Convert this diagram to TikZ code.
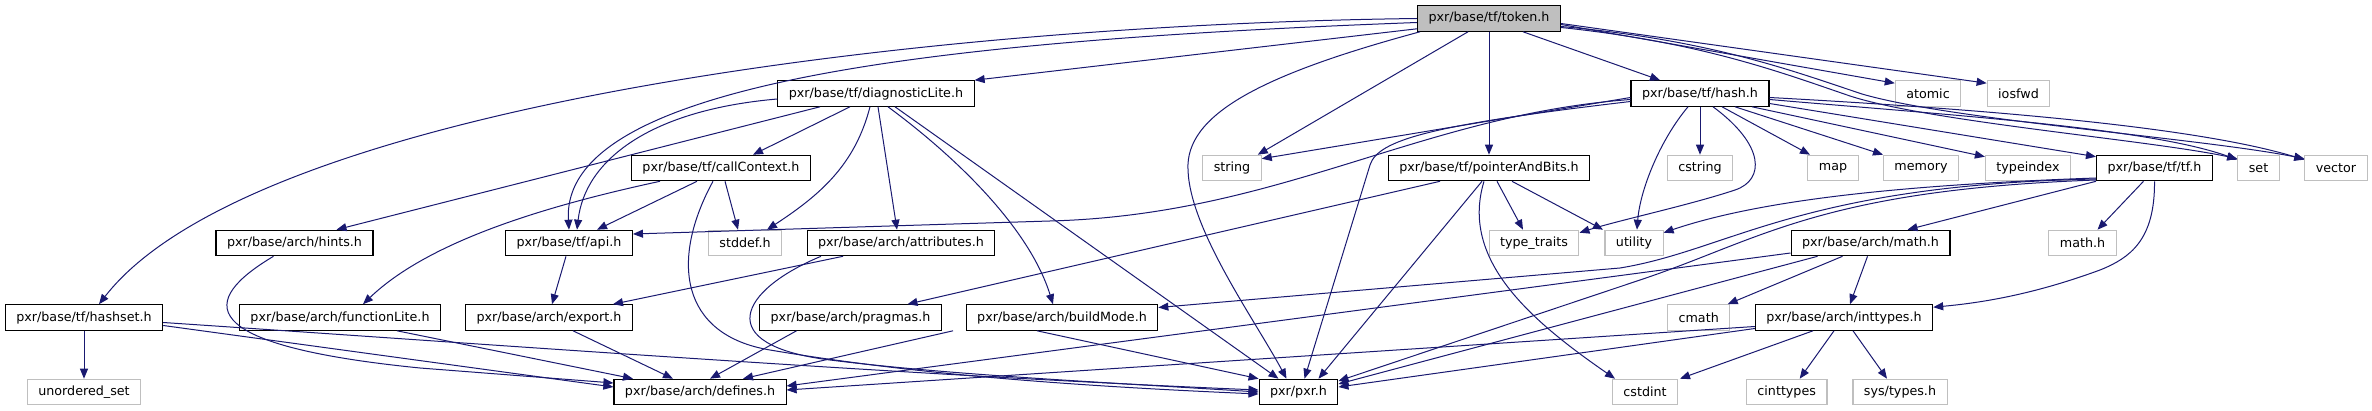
\documentclass[tikz,border=0pt]{standalone}
\usepackage{fontspec}
\setmainfont{DejaVu Sans}
\usetikzlibrary{arrows.meta}

\definecolor{edgeblue}{HTML}{191970}
\definecolor{rootgrey}{HTML}{BFBFBF}

\tikzset{
  hdr/.style={draw=black, fill=white, line width=1.1pt, inner xsep=11pt, inner ysep=0pt,
    minimum height=25.5pt, font=\fontsize{12.7}{15}\selectfont},
  syshdr/.style={hdr, draw=rootgrey},
  roothdr/.style={hdr, fill=rootgrey},
  dep/.style={edgeblue, line width=1pt, -{Triangle[length=10pt,width=8pt]}}
}

\begin{document}
\begin{tikzpicture}[x=1pt, y=-1pt]

  \useasboundingbox (0,0) rectangle (2372,411);

  % --- project headers ---
  \node[roothdr] (token) at (1489,18.5) {pxr/base/tf/token.h};
  \node[hdr] (diag) at (876,93.5) {pxr/base/tf/diagnosticLite.h};
  \node[hdr] (hash) at (1700,93.5) {pxr/base/tf/hash.h};
  \node[hdr] (callCtx) at (721,168) {pxr/base/tf/callContext.h};
  \node[hdr] (pab) at (1489,168) {pxr/base/tf/pointerAndBits.h};
  \node[hdr] (tf) at (2154.5,168) {pxr/base/tf/tf.h};
  \node[hdr] (hints) at (294.5,243) {pxr/base/arch/hints.h};
  \node[hdr] (api) at (569,243) {pxr/base/tf/api.h};
  \node[hdr] (attr) at (901,243) {pxr/base/arch/attributes.h};
  \node[hdr] (amath) at (1870.5,243) {pxr/base/arch/math.h};
  \node[hdr] (hashset) at (84,317.5) {pxr/base/tf/hashset.h};
  \node[hdr] (funcLite) at (340,317.5) {pxr/base/arch/functionLite.h};
  \node[hdr] (export) at (549,317.5) {pxr/base/arch/export.h};
  \node[hdr] (pragmas) at (850.5,317.5) {pxr/base/arch/pragmas.h};
  \node[hdr] (buildMode) at (1062,317.5) {pxr/base/arch/buildMode.h};
  \node[hdr] (inttypes) at (1844,317.5) {pxr/base/arch/inttypes.h};
  \node[hdr] (defines) at (700,392) {pxr/base/arch/defines.h};
  \node[hdr] (pxr) at (1298.5,392) {pxr/pxr.h};

  % --- system headers ---
  \foreach \nm/\x/\y/\txt in {atomic/1928/93.5/atomic, iosfwd/2018.5/93.5/iosfwd,
      string/1232/168/string, cstring/1700/168/cstring, map/1833/168/map,
      memory/1921/168/memory, typeindex/2028/168/typeindex, set/2258.5/168/set,
      vector/2336/168/vector, stddef/745/243/stddef.h, traits/1534/243/type\_traits,
      utility/1634/243/utility, mathh/2082.5/243/math.h, cmath/1698.7/317.5/cmath,
      unordset/84/392/unordered\_set, cstdint/1645/392/cstdint,
      cinttypes/1786.7/392/cinttypes, systypes/1900/392/{sys/types.h}}
    \node[syshdr] (\nm) at (\x,\y) {\txt};

  % --- token.h ---
  \draw[dep] (token.west) .. controls (900,25) and (250,110) .. ([xshift=15pt]hashset.north);
  \draw[dep] ([yshift=3pt]token.south west) -- (diag.north east);
  \draw[dep] ([yshift=-4pt]token.west) .. controls (950,40) and (560,80) .. (api.north);
  \draw[dep] ([xshift=3pt]token.south west) .. controls (1260,75) and (1185,115) .. (1188,170)
    .. controls (1190,230) and (1255,320) .. ([xshift=-12pt]pxr.north);
  \draw[dep] ([xshift=-21pt]token.south) -- ([xshift=-4pt]string.north east);
  \draw[dep] (token.south) -- (pab.north);
  \draw[dep] ([xshift=34pt]token.south) -- ([xshift=-40pt]hash.north);
  \draw[dep] ([yshift=-6pt]token.east) -- ([yshift=-3pt]atomic.north west);
  \draw[dep] ([yshift=-5pt]token.east) -- ([yshift=-3pt]iosfwd.north west);
  \draw[dep] ([yshift=-9pt]token.east) .. controls (1700,42) and (1780,72) .. (1850,96)
    .. controls (1930,122) and (2150,140) .. ([yshift=-4pt]set.north west);
  \draw[dep] ([yshift=-8pt]token.east) .. controls (1710,40) and (1790,70) .. (1862,94)
    .. controls (1950,120) and (2200,138) .. ([yshift=-4pt]vector.north west);

  % --- diagnosticLite.h ---
  \draw[dep] ([yshift=-5.5pt]diag.west) .. controls (650,110) and (585,160) .. ([xshift=8pt]api.north);
  \draw[dep] ([xshift=-56pt]diag.south) -- ([xshift=42pt]hints.north);
  \draw[dep] ([xshift=-26pt]diag.south) -- ([xshift=32pt]callCtx.north);
  \draw[dep] ([xshift=-6pt]diag.south) .. controls (855,165) and (820,195) .. ([xshift=22pt]stddef.north);
  \draw[dep] ([xshift=2pt]diag.south) -- ([xshift=-4pt]attr.north);
  \draw[dep] ([xshift=12pt]diag.south) .. controls (960,160) and (1030,230) .. ([xshift=-9pt]buildMode.north);
  \draw[dep] ([xshift=19pt]diag.south) -- ([xshift=-20pt]pxr.north);

  % --- hash.h ---
  \draw[dep] ([yshift=-6pt]hash.west) .. controls (1420,115) and (1280,215) .. (1050,221)
    -- ([yshift=9pt]api.east);
  \draw[dep] ([yshift=-4pt]hash.west) -- ([yshift=-4pt]string.north east);
  \draw[dep] ([yshift=-8pt]hash.west) .. controls (1430,125) and (1378,140) .. (1370,165)
    -- ([xshift=6pt]pxr.north);
  \draw[dep] (hash.south) -- (cstring.north);
  \draw[dep] ([xshift=-12pt]hash.south) .. controls (1660,140) and (1640,190) .. ([xshift=3pt]utility.north);
  \draw[dep] ([xshift=13pt]hash.south) .. controls (1765,145) and (1765,180) .. (1735,190)
    .. controls (1690,205) and (1620,220) .. ([yshift=-3pt]traits.north east);
  \draw[dep] ([xshift=22pt]hash.south) -- ([xshift=-23pt]map.north);
  \draw[dep] ([xshift=35pt]hash.south) -- ([xshift=-38pt]memory.north);
  \draw[dep] ([xshift=52pt]hash.south) -- ([yshift=-2pt]typeindex.north west);
  \draw[dep] ([yshift=-10pt]hash.east) -- ([yshift=-2pt]tf.north west);
  \draw[dep] ([yshift=-6pt]hash.east) .. controls (1950,115) and (2150,128) .. ([yshift=-5pt]set.north west);
  \draw[dep] ([yshift=-4pt]hash.east) .. controls (2000,110) and (2200,128) .. ([yshift=-5pt]vector.north west);

  % --- callContext.h ---
  \draw[dep] ([xshift=-24pt]callCtx.south) -- ([xshift=28pt]api.north);
  \draw[dep] ([xshift=4pt]callCtx.south) -- ([xshift=-7pt]stddef.north);
  \draw[dep] ([xshift=-61pt]callCtx.south) .. controls (550,205) and (430,240) .. ([xshift=23pt]funcLite.north);
  \draw[dep] ([xshift=-8pt]callCtx.south) .. controls (670,260) and (680,335) .. (770,350)
    .. controls (900,372) and (1050,385) .. ([yshift=-2pt]pxr.west);

  % --- pointerAndBits.h ---
  \draw[dep] ([xshift=-49pt]pab.south) -- ([xshift=57pt]pragmas.north);
  \draw[dep] ([xshift=-7pt]pab.south) -- ([xshift=20pt]pxr.north);
  \draw[dep] ([xshift=8pt]pab.south) -- ([xshift=-11pt]traits.north);
  \draw[dep] ([xshift=23pt]pab.south) -- ([xshift=-31pt]utility.north);
  \draw[dep] ([xshift=-5pt]pab.south) .. controls (1460,260) and (1530,320) .. ([xshift=-30pt]cstdint.north);

  % --- tf.h ---
  \draw[dep] ([yshift=-10pt]tf.west) .. controls (1900,185) and (1760,200) .. ([yshift=-3pt]utility.north east);
  \draw[dep] ([yshift=-11pt]tf.west) .. controls (1800,185) and (1730,250) .. (1620,268)
    -- ([yshift=10pt]buildMode.east);
  \draw[dep] ([yshift=-12pt]tf.west) .. controls (1820,190) and (1760,240) .. (1640,280)
    -- ([yshift=11pt]pxr.east);
  \draw[dep] ([xshift=-11pt]tf.south) -- ([xshift=15pt]mathh.north);
  \draw[dep] (tf.south west) -- ([xshift=37pt]amath.north);
  \draw[dep] (tf.south) .. controls (2155,240) and (2130,258) .. (2100,270)
    .. controls (2040,292) and (1990,302) .. ([yshift=-3pt]inttypes.north east);

  % --- arch headers ---
  \draw[dep] ([xshift=-21pt]hints.south) .. controls (200,300) and (190,345) .. (420,368)
    -- ([yshift=9pt]defines.west);
  \draw[dep] (hashset.south) -- (unordset.north);
  \draw[dep] ([yshift=-8pt]hashset.east) -- ([yshift=5pt]defines.west);
  \draw[dep] ([yshift=-5pt]hashset.east) .. controls (500,345) and (900,375) .. ([yshift=2pt]pxr.west);
  \draw[dep] ([xshift=57pt]funcLite.south) -- ([xshift=-67pt]defines.north);
  \draw[dep] ([xshift=-3pt]api.south) -- ([xshift=3pt]export.north);
  \draw[dep] ([xshift=-58pt]attr.south) -- ([xshift=64pt]export.north);
  \draw[dep] ([xshift=-80pt]attr.south) .. controls (740,290) and (710,345) .. (830,360)
    .. controls (950,375) and (1100,382) .. (pxr.west);
  \draw[dep] ([xshift=24pt]export.south) -- ([xshift=-27pt]defines.north);
  \draw[dep] ([xshift=-54pt]pragmas.south) -- ([xshift=10pt]defines.north);
  \draw[dep] ([xshift=-109pt]buildMode.south) -- ([xshift=43pt]defines.north);
  \draw[dep] ([xshift=-25pt]buildMode.south) -- (pxr.north west);

  % --- arch/math.h and arch/inttypes.h ---
  \draw[dep] ([xshift=-28pt]amath.south) -- ([xshift=29pt]cmath.north);
  \draw[dep] ([xshift=-3pt]amath.south) -- ([xshift=6pt]inttypes.north);
  \draw[dep] ([yshift=-10pt]amath.west) -- ([yshift=6pt]defines.east);
  \draw[dep] ([xshift=-53pt]amath.south) -- ([yshift=8pt]pxr.east);
  \draw[dep] ([xshift=-31pt]inttypes.south) -- ([xshift=35pt]cstdint.north);
  \draw[dep] ([xshift=-10pt]inttypes.south) -- ([xshift=13pt]cinttypes.north);
  \draw[dep] ([xshift=9pt]inttypes.south) -- ([xshift=-13pt]systypes.north);
  \draw[dep] ([yshift=-9pt]inttypes.west) -- ([yshift=2pt]defines.east);
  \draw[dep] ([yshift=-11pt]inttypes.west) -- ([yshift=5pt]pxr.east);

\end{tikzpicture}
\end{document}
